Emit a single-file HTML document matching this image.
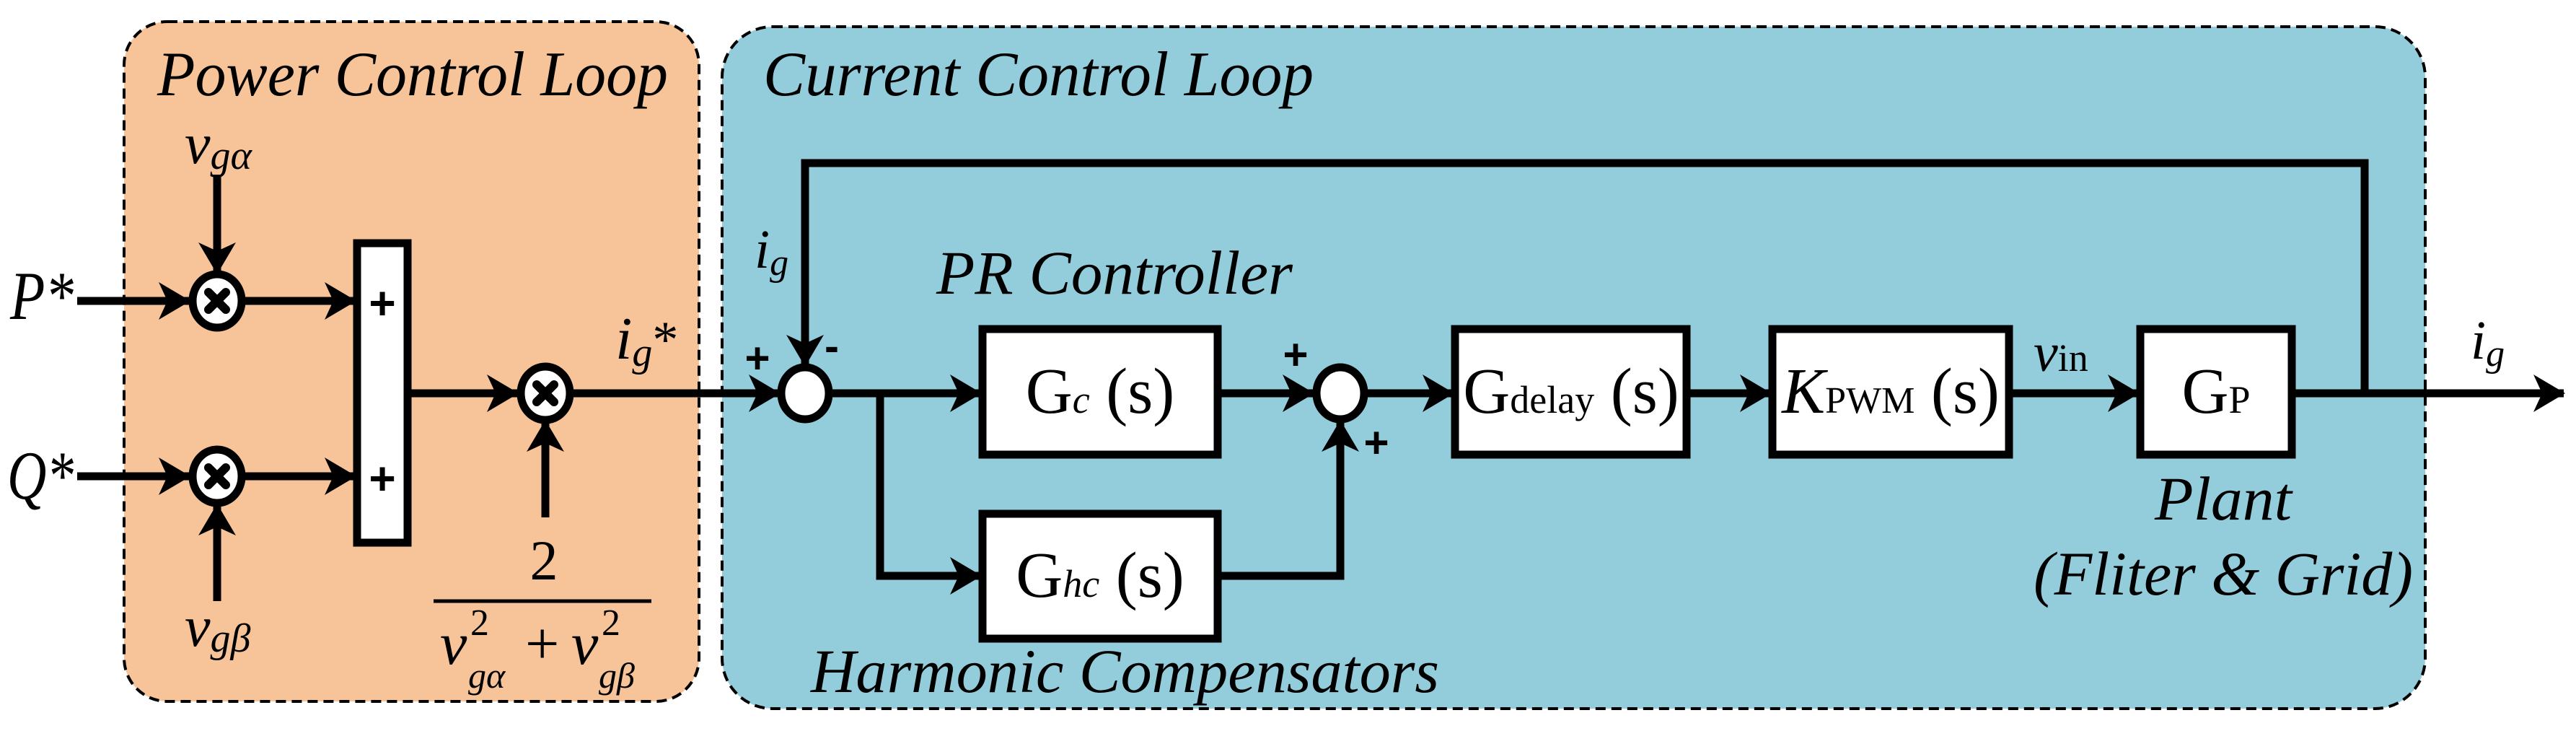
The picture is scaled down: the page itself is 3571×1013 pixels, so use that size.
<!DOCTYPE html>
<html><head><meta charset="utf-8"><style>
html,body{margin:0;padding:0;background:#fff;}
svg{display:block;}
text{font-family:"Liberation Serif","DejaVu Serif",serif;fill:#000;}
.it{font-style:italic;}
.pl{font-family:"Liberation Sans","DejaVu Sans",sans-serif;font-weight:bold;}
</style></head><body>
<svg width="3571" height="1013" viewBox="0 0 3571 1013" xmlns="http://www.w3.org/2000/svg" font-family="Liberation Serif, DejaVu Serif, serif">
<defs>
<marker id="ah" markerWidth="44" markerHeight="52" refX="42" refY="26" markerUnits="userSpaceOnUse" orient="auto">
<path d="M0,0 L44,26 L0,52 L12,26 Z" fill="#000"/>
</marker>
</defs>
<rect x="172" y="30" width="797" height="942" rx="60" fill="#F7C49A" stroke="#000" stroke-width="4" stroke-dasharray="14,8"/>
<rect x="1001" y="37" width="2361" height="945" rx="70" fill="#93CCDA" stroke="#000" stroke-width="4" stroke-dasharray="14,8"/>

<text x="218" y="132" class="it" font-size="88" textLength="708" lengthAdjust="spacingAndGlyphs">Power Control Loop</text>
<text x="1058" y="132" class="it" font-size="88" textLength="763" lengthAdjust="spacingAndGlyphs">Current Control Loop</text>

<g stroke="#000" stroke-width="11" fill="none">
<line x1="107" y1="417" x2="262" y2="417" marker-end="url(#ah)"/>
<line x1="107" y1="660" x2="262" y2="660" marker-end="url(#ah)"/>
<line x1="301" y1="242" x2="301" y2="378" marker-end="url(#ah)"/>
<line x1="301" y1="833" x2="301" y2="700" marker-end="url(#ah)"/>
<line x1="339" y1="417" x2="492" y2="417" marker-end="url(#ah)"/>
<line x1="339" y1="660" x2="492" y2="660" marker-end="url(#ah)"/>
<line x1="566" y1="545" x2="717" y2="545" marker-end="url(#ah)"/>
<line x1="756" y1="717" x2="756" y2="584" marker-end="url(#ah)"/>
<line x1="795" y1="545" x2="1080" y2="545" marker-end="url(#ah)"/>
<polyline points="3278,545 3278,226 1116,226 1116,506" marker-end="url(#ah)"/>
<line x1="1152" y1="545" x2="1359" y2="545" marker-end="url(#ah)"/>
<polyline points="1220,545 1220,798 1359,798" marker-end="url(#ah)"/>
<line x1="1688" y1="545" x2="1820" y2="545" marker-end="url(#ah)"/>
<polyline points="1688,798 1858,798 1858,584" marker-end="url(#ah)"/>
<line x1="1895" y1="545" x2="2014" y2="545" marker-end="url(#ah)"/>
<line x1="2338" y1="545" x2="2454" y2="545" marker-end="url(#ah)"/>
<line x1="2785" y1="545" x2="2964" y2="545" marker-end="url(#ah)"/>
<line x1="3177" y1="545" x2="3554" y2="545" marker-end="url(#ah)"/>
</g>

<g stroke="#000" stroke-width="11" fill="#fff">
<ellipse cx="301" cy="417" rx="34" ry="37"/>
<ellipse cx="301" cy="660" rx="34" ry="37"/>
<ellipse cx="756" cy="545" rx="34" ry="37"/>
<ellipse cx="1116" cy="545" rx="33" ry="36"/>
<ellipse cx="1858" cy="545" rx="33" ry="36"/>
<rect x="495" y="337" width="70" height="415"/>
<rect x="1362" y="456" width="326" height="174"/>
<rect x="1362" y="712" width="326" height="173"/>
<rect x="2017" y="456" width="321" height="174"/>
<rect x="2457" y="456" width="328" height="174"/>
<rect x="2967" y="456" width="210" height="174"/>
</g>
<g stroke="#000" stroke-width="12" stroke-linecap="round">
<line x1="289" y1="405" x2="313" y2="429"/><line x1="313" y1="405" x2="289" y2="429"/>
<line x1="289" y1="648" x2="313" y2="672"/><line x1="313" y1="648" x2="289" y2="672"/>
<line x1="744" y1="533" x2="768" y2="557"/><line x1="768" y1="533" x2="744" y2="557"/>
</g>

<text x="14" y="442" class="it" font-size="95" textLength="88" lengthAdjust="spacingAndGlyphs">P*</text>
<text x="10" y="691" class="it" font-size="95" textLength="92" lengthAdjust="spacingAndGlyphs">Q*</text>
<text x="256" y="226" class="it" font-size="80">v<tspan font-size="56" dy="8">g</tspan><tspan font-size="56">α</tspan></text>
<text x="256" y="895" class="it" font-size="80">v<tspan font-size="56" dy="8">g</tspan><tspan font-size="56">β</tspan></text>
<text x="530" y="442" font-size="64" text-anchor="middle" class="pl">+</text>
<text x="530" y="685" font-size="64" text-anchor="middle" class="pl">+</text>
<text x="853" y="497" class="it" font-size="84">i<tspan font-size="56" dy="10">g</tspan><tspan dy="-12" font-size="72" font-style="normal">*</tspan></text>
<text x="754" y="803" font-size="78" text-anchor="middle">2</text>
<line x1="601" y1="833" x2="903" y2="833" stroke="#000" stroke-width="5"/>
<text x="610" y="920" class="it" font-size="84">v</text>
<text x="652" y="880" font-size="52">2</text>
<text x="649" y="953" class="it" font-size="50">gα</text>
<text x="728" y="920" font-size="84">+</text>
<text x="792" y="920" class="it" font-size="84">v</text>
<text x="834" y="880" font-size="52">2</text>
<text x="830" y="953" class="it" font-size="50">gβ</text>

<text x="1046" y="371" class="it" font-size="76">i<tspan font-size="52" dy="10">g</tspan></text>
<text x="1050" y="517" font-size="60" text-anchor="middle" class="pl">+</text>
<text x="1153" y="500" font-size="60" text-anchor="middle" class="pl">-</text>
<text x="1796" y="512" font-size="60" text-anchor="middle" class="pl">+</text>
<text x="1908" y="634" font-size="60" text-anchor="middle" class="pl">+</text>
<text x="1298" y="407" class="it" font-size="86" textLength="494" lengthAdjust="spacingAndGlyphs">PR Controller</text>
<text x="1124" y="959" class="it" font-size="86" textLength="871" lengthAdjust="spacingAndGlyphs">Harmonic Compensators</text>

<text x="1525" y="572" font-size="90" text-anchor="middle">G<tspan class="it" font-size="54">c</tspan> (s)</text>
<text x="1525" y="827" font-size="90" text-anchor="middle">G<tspan class="it" font-size="54">hc</tspan> (s)</text>
<text x="2178" y="572" font-size="90" text-anchor="middle">G<tspan font-size="54">delay</tspan> (s)</text>
<text x="2621" y="572" font-size="90" text-anchor="middle"><tspan class="it">K</tspan><tspan font-size="52">PWM</tspan> (s)</text>
<text x="3072" y="572" font-size="90" text-anchor="middle">G<tspan font-size="54">P</tspan></text>
<text x="2819" y="514" class="it" font-size="76">v<tspan font-size="54" font-style="normal">in</tspan></text>
<text x="3425" y="497" class="it" font-size="76">i<tspan font-size="52" dy="10">g</tspan></text>
<text x="2987" y="720" class="it" font-size="86" textLength="190" lengthAdjust="spacingAndGlyphs">Plant</text>
<text x="2819" y="824" class="it" font-size="86" textLength="526" lengthAdjust="spacingAndGlyphs">(Fliter &amp; Grid)</text>
</svg>
</body></html>
